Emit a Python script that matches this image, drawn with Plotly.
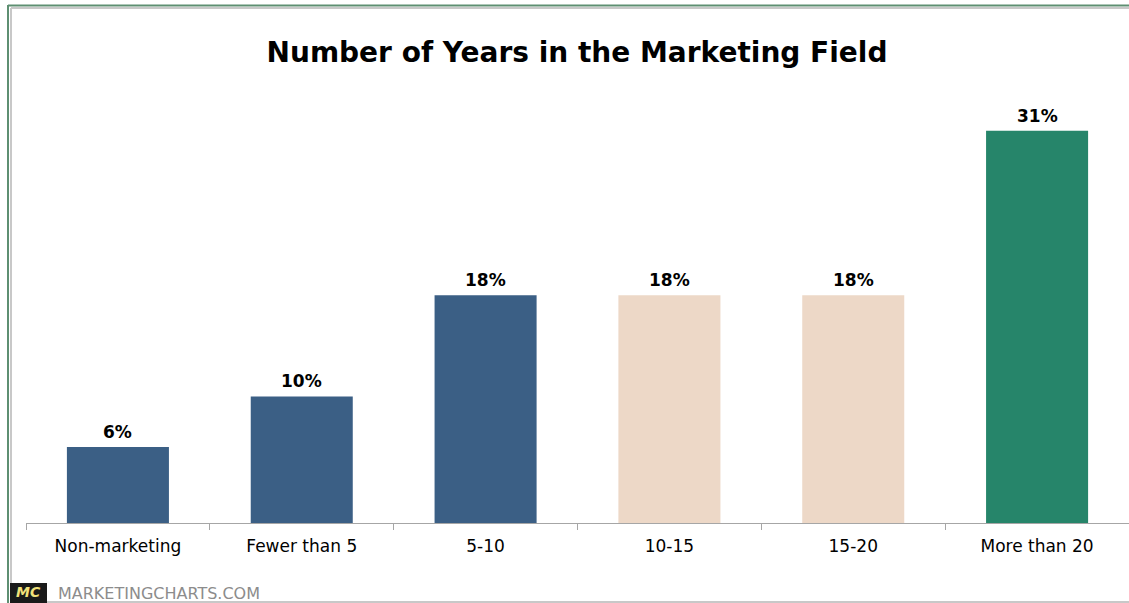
import plotly.graph_objects as go

categories = ["Non-marketing", "Fewer than 5", "5-10", "10-15", "15-20", "More than 20"]
values = [6, 10, 18, 18, 18, 31]
title_text = "Number of Years in the Marketing Field"
source_text = "MARKETINGCHARTS.COM"

BLUE = "#3b5f85"
BEIGE = "#edd8c7"
GREEN = "#26856a"
bar_colors = [BLUE, BLUE, BLUE, BEIGE, BEIGE, GREEN]

W, H = 1129, 603
ML, MR, MT, MB = 26, 0, 80, 80
PW, PH = W - ML - MR, H - MT - MB


def px(x):
    return (x - ML) / PW


def py(y):
    return (H - MB - y) / PH


FONT = "DejaVu Sans"

fig = go.Figure()
fig.add_trace(go.Bar(
    x=categories, y=values,
    marker=dict(color=bar_colors, line=dict(width=0)),
    width=0.555,
    hoverinfo="skip",
))

annotations = []
for c, v in zip(categories, values):
    annotations.append(dict(
        x=c, y=v, xref="x", yref="y", text=f"<b>{v}%</b>",
        showarrow=False, yanchor="bottom", yshift=3,
        font=dict(family=FONT, size=17, color="#000000"),
    ))

# footer logo + source
annotations.append(dict(
    x=px(28), y=py(592), xref="paper", yref="paper",
    text="<b><i>MC</i></b>", showarrow=False, xanchor="center", yanchor="middle",
    font=dict(family=FONT, size=14, color="#f2e27a"),
))
annotations.append(dict(
    x=px(56), y=py(593), xref="paper", yref="paper",
    text=source_text, showarrow=False, xanchor="left", yanchor="middle",
    font=dict(family=FONT, size=16, color="#8c8c8c"),
))

shapes = [
    # outer green frame (top / left)
    dict(type="line", xref="paper", yref="paper", x0=px(8), x1=px(W + 5), y0=py(5.5), y1=py(5.5),
         line=dict(color="#5e8f72", width=2)),
    dict(type="line", xref="paper", yref="paper", x0=px(8), x1=px(8), y0=py(5), y1=py(H + 5),
         line=dict(color="#5e8f72", width=2)),
    # inner gray frame
    dict(type="line", xref="paper", yref="paper", x0=px(11), x1=px(W + 5), y0=py(8), y1=py(8),
         line=dict(color="#c8c8c8", width=2)),
    dict(type="line", xref="paper", yref="paper", x0=px(11), x1=px(11), y0=py(8), y1=py(H + 5),
         line=dict(color="#c8c8c8", width=2)),
    # bottom gray line
    dict(type="line", xref="paper", yref="paper", x0=px(11), x1=px(W + 5), y0=py(602), y1=py(602),
         line=dict(color="#c8c8c8", width=2)),
    # logo box
    dict(type="rect", xref="paper", yref="paper", x0=px(10), x1=px(47), y0=py(583), y1=py(603),
         fillcolor="#1a1a1a", line=dict(width=0), layer="above"),
]

fig.update_layout(
    width=W, height=H,
    margin=dict(l=ML, r=MR, t=MT, b=MB),
    paper_bgcolor="white", plot_bgcolor="white",
    showlegend=False,
    title=dict(
        text=f"<b>{title_text}</b>", x=577 / W, y=1 - 52 / H,
        xanchor="center", yanchor="middle", xref="container", yref="container",
        font=dict(family=FONT, size=28, color="#000000"),
    ),
    xaxis=dict(
        type="category", showgrid=False, zeroline=False,
        showline=True, linecolor="#a6a6a6", linewidth=1,
        ticks="outside", tickson="boundaries", ticklen=6, tickcolor="#a6a6a6", tickwidth=1,
        tickfont=dict(family=FONT, size=17, color="#000000"),
        ticklabelstandoff=8,
    ),
    yaxis=dict(range=[0, 35], visible=False, showgrid=False, zeroline=False),
    bargap=0.445,
    annotations=annotations,
    shapes=shapes,
)

fig.write_html("out.html", config={"displayModeBar": False},
               post_script="document.body.style.margin='0';")
